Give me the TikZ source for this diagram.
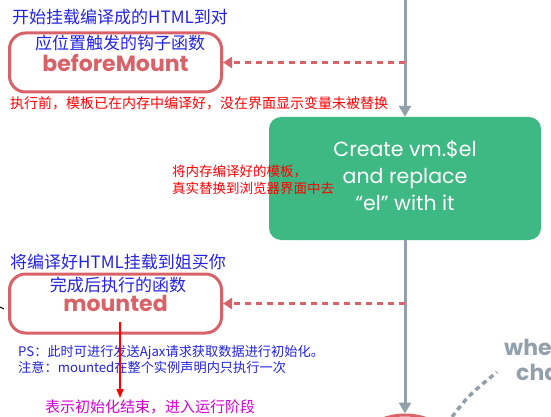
\documentclass[tikz,border=0pt]{standalone}
\usepackage{fontspec}
\usepackage{tikz}
\usetikzlibrary{arrows.meta}

\newfontfamily\cjk{Noto Sans CJK SC}
\newfontfamily\pop{Poppins}

\definecolor{hookred}{RGB}{217,98,104}
\definecolor{vuegreen}{RGB}{62,185,131}
\definecolor{flowgrey}{RGB}{146,160,171}
\definecolor{noteblue}{RGB}{35,35,225}
\definecolor{notered}{RGB}{255,0,0}
\definecolor{notepink}{RGB}{215,0,215}

\tikzset{
  hookbox/.style={shape=rectangle, rounded corners=16pt, draw=hookred, line width=3pt,
    minimum width=212pt, minimum height=59pt, text=hookred,
    font=\pop\bfseries\fontsize{22}{22}\selectfont},
  flow/.style={draw=flowgrey, line width=3pt, -{Triangle[length=11pt,width=12pt]}},
  hookarrow/.style={draw=hookred, line width=2.5pt, dash pattern=on 6pt off 5pt,
    -{Triangle[length=9pt,width=11pt]}},
  title/.style={text=noteblue, align=center, inner sep=0pt},
  note/.style={anchor=west, align=left, inner sep=0pt}
}

\begin{document}
\begin{tikzpicture}[x=1pt, y=-1pt]
    \useasboundingbox (0,0) rectangle (551,417);
    \clip (0,0) rectangle (551,417);

    % lifecycle boxes
    \node[hookbox] (bm) at (115.5,62.5) {beforeMount};
    \node[hookbox] (mt) at (115.5,303.5) {mounted};
    \node[shape=rectangle, rounded corners=12pt, fill=vuegreen, minimum width=272pt,
      minimum height=123pt, text=white, align=center,
      font=\pop\fontsize{20.5}{27}\selectfont] (el) at (405,178.5)
      {Create vm.\$el\\and replace\\“el” with it\vspace*{6pt}};
    \node[shape=circle, draw=hookred, line width=3pt, minimum size=130pt] (bu) at (405,480) {};

    % grey flow
    \coordinate (top) at (405,0);
    \path[flow] (top) -- (el.north);
    \path[flow] (el.south) -- (bu.north);

    % hooks
    \coordinate (j1) at (405,62.5);
    \coordinate (j2) at (405,303.5);
    \path[hookarrow] (j1) -- (bm.east);
    \path[hookarrow] (j2) -- (mt.east);

    % data change
    \coordinate (w1) at (452,417);
    \coordinate (w2) at (497,372);
    \draw[flowgrey, line width=3.5pt, dash pattern=on 5pt off 4pt] (w1) .. controls (468,396) .. (w2);
    \node[note, text=flowgrey, align=left, font=\pop\bfseries\fontsize{22}{25}\selectfont] (wc) at (504,359.5) {whe\\\hspace*{12pt}cha};

    % notes
    \node[title, font=\cjk\fontsize{17}{26}\selectfont] (t1) at (120,30) {开始挂载编译成的HTML到对\\应位置触发的钩子函数};
    \node[note, text=notered, font=\cjk\fontsize{14}{14}\selectfont] (n1) at (10,103) {执行前，模板已在内存中编译好，没在界面显示变量未被替换};
    \node[note, text=notered, font=\cjk\fontsize{13.5}{17}\selectfont] (n2) at (172,179.5) {将内存编译好的模板，\\真实替换到浏览器界面中去};
    \node[title, font=\cjk\fontsize{17}{23}\selectfont] (t2) at (118,273.5) {将编译好HTML挂载到姐买你\\完成后执行的函数};
    \node[note, text=noteblue, font=\cjk\fontsize{13.2}{16}\selectfont] (n3) at (18,360) {PS：此时可进行发送Ajax请求获取数据进行初始化。\\注意：mounted在整个实例声明内只执行一次};
    \node[note, text=notepink, font=\cjk\fontsize{15}{15}\selectfont] (n4) at (45,407) {表示初始化结束，进入运行阶段};

    % red marker
    \coordinate (m1) at (120,322);
    \coordinate (m2) at (120,398);
    \draw[notered, line width=1.5pt, -{Triangle[length=9pt,width=7pt]}] (m1) -- (m2);

    % stray tick on the left
    \coordinate (s1) at (0,307);
    \coordinate (s2) at (4,309);
    \draw[black, line width=1pt] (s1) -- (s2);

\end{tikzpicture}
\end{document}
